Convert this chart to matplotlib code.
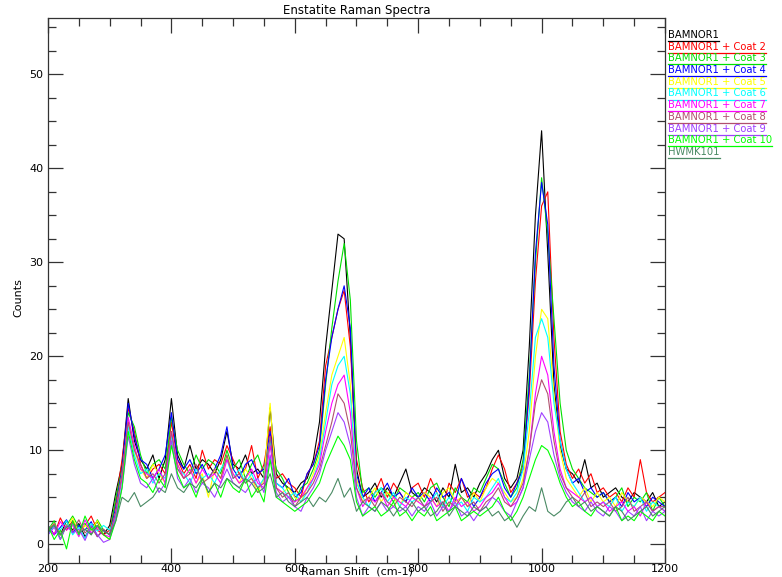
import numpy as np
import matplotlib
matplotlib.use("Agg")
import matplotlib.pyplot as plt
from matplotlib.ticker import MultipleLocator
from matplotlib.lines import Line2D

# Raman shift grid, cm-1 (every 10 from 200 to 1200)
shift = np.arange(200, 1201, 10)

bamnor1 = [1.2, 2.0, 1.0, 2.5, 1.5, 2.2, 0.8, 1.8, 2.4, 1.0,
           2.0, 5.5, 8.5, 15.5, 11.0, 9.0, 8.0, 9.5, 7.0, 9.0,
           15.5, 9.5, 8.0, 10.5, 8.0, 9.0, 8.5, 7.5, 9.0, 12.0,
           8.5, 8.0, 9.5, 7.5, 8.0, 7.0, 14.5, 7.5, 6.5, 6.0,
           5.5, 6.5, 7.0, 9.0, 13.0, 21.0, 27.0, 33.0, 32.5, 22.0,
           8.0, 5.0, 5.5, 6.5, 5.0, 6.0, 5.0, 6.5, 8.0, 5.5,
           5.0, 6.0, 5.5, 4.5, 6.0, 5.0, 8.5, 5.5, 6.0, 5.0,
           6.5, 7.5, 9.0, 10.0, 7.0, 6.0, 7.0, 10.0, 21.0, 35.0,
           44.0, 31.0, 17.0, 10.5, 8.0, 7.5, 6.5, 9.0, 6.0, 6.5,
           5.0, 5.5, 6.0, 5.0, 4.5, 5.5, 5.0, 4.5, 5.5, 4.0,
           4.5]
coat2 = [2.0, 1.0, 2.8, 1.5, 2.5, 1.2, 2.0, 3.0, 1.5, 1.0,
         1.5, 4.5, 9.0, 14.5, 12.0, 8.5, 7.0, 8.0, 8.5, 7.5,
         13.0, 9.0, 7.5, 8.5, 7.0, 10.0, 8.0, 9.0, 8.5, 10.5,
         9.0, 7.5, 8.0, 10.5, 7.0, 8.5, 12.5, 7.0, 7.5, 6.5,
         6.0, 5.0, 7.5, 8.5, 11.0, 19.0, 22.0, 25.0, 27.0, 21.0,
         9.0, 6.0, 4.5, 5.5, 7.0, 5.0, 6.5, 5.5, 4.5, 6.0,
         6.5, 5.0, 7.0, 5.5, 4.0, 6.5, 5.5, 7.0, 5.0, 5.5,
         5.0, 6.0, 8.0, 9.5, 8.0, 5.5, 6.5, 8.5, 16.0, 28.0,
         36.0, 37.5, 22.0, 12.0, 8.5, 7.0, 8.0, 6.5, 7.5, 5.5,
         6.0, 5.0, 5.5, 4.5, 6.0, 5.0, 9.0, 5.5, 4.5, 5.0,
         5.5]
coat3 = [1.5, 2.5, 0.5, 2.0, 3.0, 1.8, 2.2, 1.0, 2.6, 1.5,
         1.0, 5.0, 8.0, 14.0, 12.5, 9.5, 7.5, 8.5, 9.0, 8.0,
         13.5, 10.0, 8.5, 7.5, 9.5, 8.0, 9.0, 8.5, 7.5, 10.0,
         8.0, 9.0, 7.0, 8.5, 9.5, 7.5, 11.0, 8.0, 7.0, 5.5,
         4.5, 6.0, 6.5, 8.0, 10.0, 17.0, 23.0, 28.0, 32.0, 26.0,
         11.0, 5.5, 6.0, 5.0, 6.0, 5.5, 4.5, 6.0, 5.5, 5.0,
         5.5, 4.5, 6.0, 6.5, 5.0, 4.0, 6.0, 5.0, 4.5, 6.0,
         5.5, 7.0, 8.5, 8.0, 6.5, 5.0, 6.0, 9.0, 18.0, 30.0,
         39.0, 33.0, 24.0, 15.0, 10.0, 8.0, 7.0, 6.0, 5.5, 5.0,
         5.5, 4.5, 5.0, 6.0, 4.0, 5.0, 4.5, 5.5, 3.5, 5.0,
         4.0]
coat4 = [2.0, 1.0, 1.8, 2.6, 1.2, 2.0, 1.5, 2.4, 0.8, 1.5,
         1.0, 4.0, 8.0, 15.0, 11.5, 9.0, 8.5, 7.0, 8.0, 9.5,
         14.0, 9.0, 8.0, 9.0, 7.5, 8.5, 7.0, 8.0, 9.5, 12.5,
         8.0, 7.0, 8.5, 9.0, 7.5, 8.0, 12.0, 6.5, 6.0, 7.0,
         5.0, 5.5, 7.5, 8.5, 10.5, 17.5, 22.0, 25.0, 27.5, 23.0,
         7.5, 5.0, 6.0, 4.5, 5.5, 6.5, 5.0, 5.5, 4.5, 6.0,
         5.0, 5.5, 4.5, 6.0, 5.0, 5.5, 4.5, 7.0, 5.5, 4.0,
         5.0, 6.5, 7.5, 8.0, 6.0, 5.0, 6.5, 8.0, 17.0, 31.0,
         38.5, 34.0, 19.0, 11.0, 8.0, 6.5, 7.0, 5.5, 6.0, 5.0,
         5.5, 4.5, 5.0, 4.0, 5.5, 4.5, 5.0, 4.0, 5.0, 4.5,
         4.0]
coat5 = [1.5, 2.2, 1.0, 1.8, 2.8, 1.2, 2.0, 1.5, 2.5, 1.0,
         0.5, 3.5, 7.5, 13.0, 10.0, 8.0, 7.0, 8.5, 7.5, 6.5,
         11.0, 8.5, 7.0, 8.0, 6.5, 7.5, 5.0, 8.0, 7.0, 9.5,
         7.5, 6.5, 8.0, 7.0, 5.5, 7.0, 15.0, 6.0, 5.5, 6.0,
         5.0, 4.5, 6.0, 7.5, 9.5, 14.0, 18.0, 20.0, 22.0, 17.0,
         7.0, 4.5, 5.0, 6.0, 4.5, 5.5, 5.0, 4.0, 5.5, 5.0,
         4.5, 5.5, 5.0, 4.0, 5.5, 6.0, 4.5, 5.0, 4.0, 5.5,
         4.5, 6.0, 7.0, 6.5, 5.5, 4.5, 5.0, 7.0, 12.0, 20.0,
         25.0, 24.0, 16.0, 10.0, 7.0, 6.0, 5.0, 6.0, 4.5, 5.5,
         4.5, 5.0, 4.0, 5.5, 4.5, 4.0, 5.0, 4.5, 4.0, 5.0,
         4.5]
coat6 = [1.0, 2.0, 1.5, 2.5, 1.0, 1.8, 0.6, 2.2, 1.4, 2.0,
         1.5, 3.0, 7.0, 12.5, 9.5, 7.5, 8.0, 6.5, 7.5, 7.0,
         11.5, 8.0, 7.5, 6.5, 8.0, 7.0, 7.5, 6.5, 8.0, 9.0,
         7.0, 8.0, 6.5, 7.5, 6.0, 7.0, 11.0, 6.5, 6.0, 5.0,
         5.5, 4.5, 5.5, 7.0, 9.0, 13.0, 17.0, 19.0, 20.0, 16.0,
         6.5, 5.0, 4.0, 5.5, 6.0, 4.5, 5.5, 4.0, 5.0, 4.5,
         5.0, 4.0, 4.5, 5.5, 4.0, 5.0, 4.0, 4.5, 3.5, 5.0,
         4.5, 5.0, 6.0, 7.0, 5.0, 4.5, 5.5, 8.0, 14.0, 22.0,
         24.0, 22.0, 15.0, 11.0, 8.0, 6.5, 5.5, 4.5, 5.0, 4.0,
         4.5, 4.0, 5.0, 3.5, 4.5, 4.0, 5.0, 3.5, 4.5, 4.0,
         3.5]
coat7 = [1.8, 1.0, 2.4, 1.5, 2.0, 0.8, 2.6, 1.2, 1.8, 1.0,
         0.8, 3.5, 7.0, 13.5, 10.5, 8.0, 7.5, 7.0, 8.0, 6.5,
         12.0, 8.5, 7.0, 8.0, 6.5, 8.0, 7.0, 7.5, 6.5, 9.0,
         7.5, 6.5, 7.0, 8.0, 6.5, 6.0, 10.5, 6.0, 5.5, 5.0,
         4.5, 5.0, 6.0, 7.0, 8.5, 12.0, 15.0, 17.0, 18.0, 14.0,
         6.0, 4.0, 5.0, 4.5, 5.5, 4.0, 5.0, 4.5, 4.0, 5.0,
         4.5, 4.0, 5.0, 4.0, 4.5, 3.5, 5.0, 4.0, 4.5, 3.5,
         4.0, 5.0, 5.5, 6.5, 5.0, 4.0, 4.5, 6.0, 10.0, 16.0,
         20.0, 18.0, 12.0, 8.0, 6.0, 5.5, 5.0, 4.5, 5.0, 4.0,
         4.5, 3.5, 4.0, 4.5, 3.5, 4.0, 3.0, 4.5, 3.5, 4.0,
         3.5]
coat8 = [1.5, 2.2, 1.0, 2.0, 1.4, 2.6, 1.2, 1.8, 0.8, 1.6,
         1.0, 3.5, 7.5, 13.0, 10.0, 8.5, 7.0, 7.5, 6.5, 7.5,
         12.0, 8.0, 7.0, 7.5, 8.5, 6.5, 7.0, 8.0, 7.0, 9.5,
         7.0, 7.5, 6.5, 7.0, 6.0, 6.5, 11.5, 6.0, 5.0, 5.5,
         4.0, 5.0, 5.5, 6.5, 8.0, 10.5, 13.0, 16.0, 15.0, 12.0,
         6.0, 4.5, 5.0, 4.0, 5.5, 4.5, 4.0, 5.0, 4.5, 4.0,
         5.0, 4.0, 4.5, 5.0, 3.5, 4.5, 4.0, 5.0, 4.0, 4.5,
         3.5, 4.5, 5.0, 6.0, 4.5, 4.0, 5.0, 6.5, 10.0, 15.0,
         17.5, 16.0, 11.0, 7.5, 6.0, 5.0, 4.5, 5.5, 4.0, 4.5,
         4.0, 4.5, 3.5, 4.0, 5.0, 3.5, 4.0, 4.5, 3.5, 4.0,
         4.0]
coat9 = [1.0, 1.8, 0.5, 2.0, 1.2, 1.6, 0.4, 2.0, 1.0, 0.2,
         0.5, 3.0, 6.0, 11.5, 8.5, 6.5, 6.0, 7.0, 5.5, 6.5,
         11.0, 7.0, 6.0, 7.0, 5.5, 6.5, 6.0, 5.0, 6.5, 8.0,
         6.5, 6.0, 5.5, 6.5, 7.0, 5.5, 9.5, 5.5, 4.5, 5.0,
         4.0, 3.5, 5.0, 6.0, 7.5, 10.0, 12.0, 14.0, 13.0, 10.5,
         5.0, 3.0, 4.0, 3.5, 4.5, 3.5, 4.0, 3.5, 4.0, 3.0,
         4.0, 3.5, 4.5, 3.0, 4.0, 3.5, 4.5, 3.0, 3.5, 2.5,
         3.5, 4.0, 5.0, 4.5, 3.5, 3.0, 4.5, 6.0, 9.0, 12.0,
         14.0, 13.0, 9.5, 7.0, 5.5, 4.5, 4.0, 3.5, 4.5, 3.5,
         3.0, 4.0, 3.5, 2.5, 3.5, 3.0, 4.0, 2.5, 3.5, 3.0,
         3.5]
coat10 = [2.0, 0.5, 1.5, -0.5, 2.5, 1.0, 3.0, 1.5, 2.0, 1.0,
          0.5, 2.5, 6.0, 12.0, 9.0, 7.0, 6.5, 5.5, 7.0, 6.0,
          10.5, 7.5, 6.0, 6.5, 5.0, 7.0, 5.5, 6.5, 5.0, 7.0,
          6.0, 5.5, 7.0, 5.0, 6.0, 4.5, 9.0, 5.0, 4.5, 4.0,
          3.5, 4.0, 4.5, 5.5, 6.5, 8.5, 10.0, 11.5, 10.5, 9.0,
          4.5, 3.0, 3.5, 4.0, 3.0, 3.5, 4.5, 3.0, 3.5, 2.5,
          3.5, 3.0, 4.0, 2.5, 3.0, 3.5, 4.0, 2.5, 3.0, 3.5,
          3.0, 3.5, 4.0, 5.0, 3.5, 2.5, 3.5, 5.0, 7.0, 9.0,
          10.5, 10.0, 8.5, 6.5, 5.0, 4.0, 4.5, 3.5, 3.0, 4.0,
          3.5, 3.0, 4.0, 2.5, 3.0, 2.5, 3.5, 3.0, 2.5, 3.5,
          3.0]
hwmk101 = [1.5, 2.0, 1.0, 1.8, 2.2, 1.2, 1.6, 1.0, 2.0, 1.4,
           1.0, 2.5, 5.0, 4.5, 5.5, 4.0, 4.5, 5.0, 6.0, 5.5,
           7.5, 6.0, 5.5, 6.5, 6.0, 7.0, 5.5, 6.5, 6.0, 7.0,
           6.5, 6.0, 7.0, 6.5, 5.5, 6.0, 7.5, 5.0, 5.5, 4.5,
           4.0, 4.5, 5.0, 4.0, 5.0, 4.5, 5.5, 7.0, 5.0, 6.0,
           3.5, 4.5, 4.0, 3.5, 4.5, 4.0, 3.0, 4.0, 3.5, 4.5,
           3.5, 4.0, 3.0, 3.5, 4.5, 3.0, 4.0, 3.5, 3.0, 4.0,
           3.5, 4.0, 3.0, 3.5, 2.5, 3.0, 1.8, 3.0, 4.0, 3.5,
           6.0, 3.5, 3.0, 3.5, 4.5, 5.0, 4.0, 4.5, 3.5, 4.0,
           3.5, 3.0, 4.0, 3.5, 2.5, 3.0, 3.5, 4.0, 3.0, 3.5,
           4.0]

names = ['BAMNOR1', 'BAMNOR1 + Coat 2', 'BAMNOR1 + Coat 3', 'BAMNOR1 + Coat 4',
         'BAMNOR1 + Coat 5', 'BAMNOR1 + Coat 6', 'BAMNOR1 + Coat 7',
         'BAMNOR1 + Coat 8', 'BAMNOR1 + Coat 9', 'BAMNOR1 + Coat 10', 'HWMK101']
spectra = [bamnor1, coat2, coat3, coat4, coat5, coat6, coat7,
           coat8, coat9, coat10, hwmk101]
colors = ['black', '#ff0000', '#00e000', '#0000ff', '#ffff00', '#00ffff',
          '#ff00ff', '#b0506e', '#a040ff', '#00ff00', '#4a8a64']

fig = plt.figure(figsize=(7.82, 5.77), dpi=100)
ax = fig.add_axes([48/782, 14/577, 617/782, 545/577])

for y, c in zip(spectra, colors):
    ax.plot(shift, y, color=c, lw=0.8)

ax.set_xlim(200, 1200)
ax.set_ylim(-2, 56)
ax.xaxis.set_major_locator(MultipleLocator(200))
ax.xaxis.set_minor_locator(MultipleLocator(50))
ax.yaxis.set_major_locator(MultipleLocator(10))
ax.yaxis.set_minor_locator(MultipleLocator(2.5))
ax.tick_params(which='both', direction='in', top=True, right=True,
               labelsize=8, color='#333333')
ax.tick_params(axis='x', pad=1)
ax.tick_params(which='major', length=11, width=0.9)
ax.tick_params(which='minor', length=6, width=0.9)
for s in ax.spines.values():
    s.set_linewidth(0.9)
    s.set_color('#333333')

ax.set_title('Enstatite Raman Spectra', fontsize=8.5, pad=3)
fig.text(357/782, 1 - 571/577, 'Raman Shift  (cm-1)', fontsize=8,
         ha='center', va='center')
fig.text(18/782, 1 - 298/577, 'Counts', fontsize=8, rotation=90,
         ha='center', va='center')

# legend on the right: coloured text with an underline
fig.canvas.draw()
r = fig.canvas.get_renderer()
for i, (n, c) in enumerate(zip(names, colors)):
    t = fig.text(668/782, 1 - (35 + 11.7*i)/577, n, color=c, fontsize=7.2,
                 va='center', ha='left')
    bb = t.get_window_extent(r).transformed(fig.transFigure.inverted())
    yl = bb.y0 - 1.0/577
    fig.add_artist(Line2D([bb.x0, bb.x1], [yl, yl], color=c, lw=0.9,
                          transform=fig.transFigure))

fig.savefig('out.png', dpi=100)
